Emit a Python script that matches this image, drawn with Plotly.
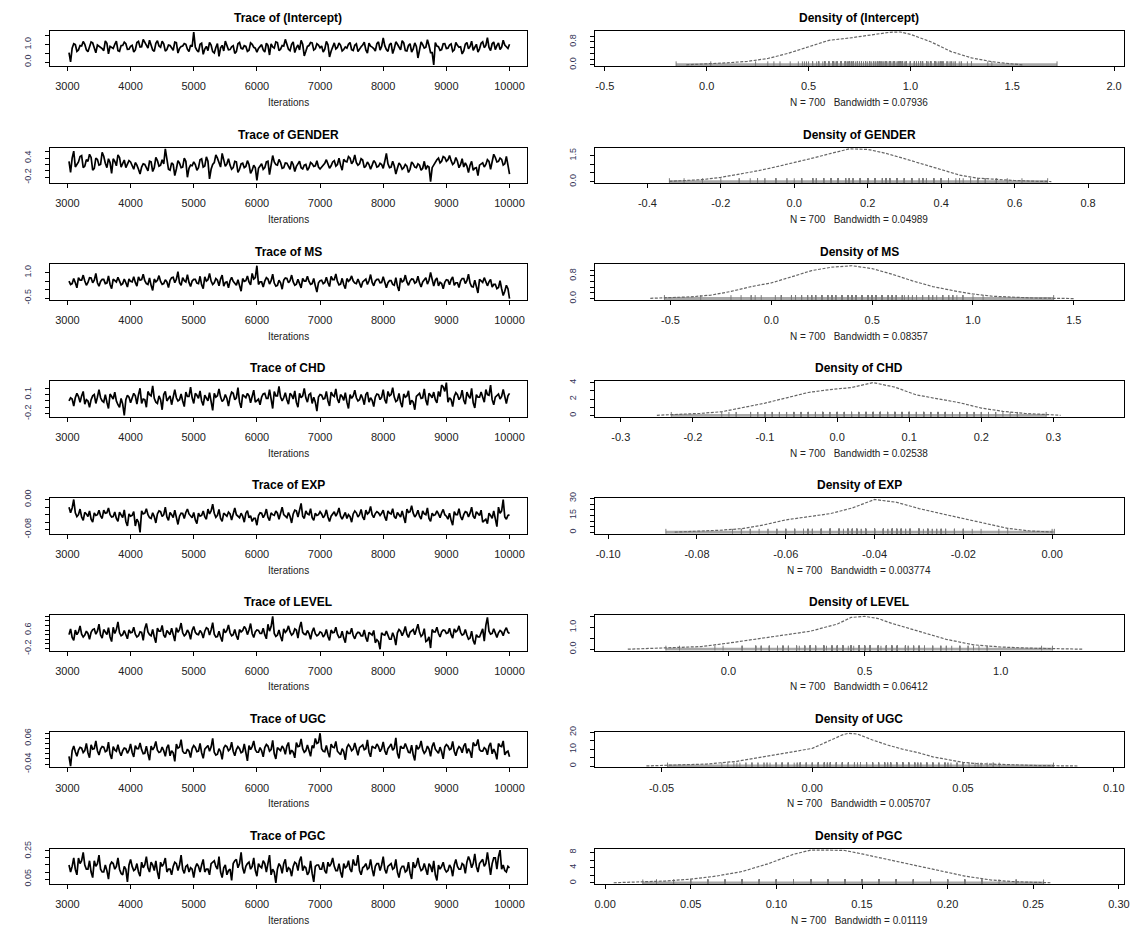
import plotly.graph_objects as go

W, H = 1140, 949

params = ["(Intercept)", "GENDER", "MS", "CHD", "EXP", "LEVEL", "UGC", "PGC"]
bandwidths = ["0.07936", "0.04989", "0.08357", "0.02538", "0.003774", "0.06412", "0.005707", "0.01119"]
n_samples = 700
iter_a = list(range(3025, 10000, 50))   # samples read at 3025, 3075, ...
iter_b = list(range(3050, 10001, 50))   # samples read at 3050, 3100, ...

# ---- trace values, read at iterations iter_b ----
trace_intercept = [
    0.02, 1.05, 0.62, 0.95, 1.18, 0.71, 0.88, 1.10, 0.54, 0.92, 0.77, 1.21, 0.48, 0.83, 1.02, 0.66, 0.95, 1.14, 0.73, 0.90,
    0.58, 1.12, 0.86, 1.30, 0.95, 1.25, 0.70, 1.08, 0.92, 1.19, 0.63, 0.98, 0.81, 1.15, 0.52, 0.89, 1.06, 0.74, 0.97, 1.72,
    0.68, 1.02, 0.45, 0.90, 1.13, 0.60, 0.84, 0.33, 0.96, 1.20, 0.71, 0.88, 0.50, 1.05, 0.79, 0.94, 0.62, 1.10, 0.85, 0.57,
    0.92, 0.70, 1.08, 0.41, 0.87, 1.16, 0.66, 0.95, 1.30, 0.74, 1.02, 0.55, 0.98, 1.24, 0.36, 0.90, 1.12, 0.69, 1.05, 0.82,
    0.58, 1.18, 0.30, 0.93, 0.76, 1.09, 0.64, 0.87, 1.03, 0.71, 0.96, 0.60, 0.88, 1.14, 0.52, 0.91, 0.78, 1.06, 0.69, 1.38,
    0.72, 1.00, 0.49, 1.16, 0.84, 1.22, 0.66, 0.95, 0.58, 1.10, 0.24, 1.15, 0.80, 1.28, 0.55, -0.15, 0.92, 0.68, 1.05, 0.78,
    0.98, 0.62, 1.12, 0.85, 0.47, 1.03, 0.76, 1.20, 0.90, 0.58, 1.08, 0.83, 1.40, 0.66, 1.15, 0.94, 0.72, 1.25, 0.88, 1.02,
]
trace_gender = [
    -0.05, 0.62, 0.22, 0.45, 0.10, 0.35, 0.52, 0.02, 0.40, 0.18, 0.58, 0.24, 0.38, -0.08, 0.30, 0.50, 0.12, 0.34, 0.20, 0.28,
    0.05, 0.18, -0.10, 0.22, 0.08, 0.30, -0.02, 0.42, 0.15, 0.35, 0.69, 0.05, 0.25, -0.15, 0.32, 0.10, 0.40, -0.20, 0.18, 0.28,
    0.02, 0.35, 0.12, 0.44, -0.25, 0.20, 0.50, 0.26, 0.55, 0.14, 0.38, 0.05, 0.30, -0.05, 0.22, 0.10, 0.32, -0.08, 0.18, -0.30,
    0.15, 0.05, 0.28, -0.12, 0.48, 0.20, 0.36, 0.08, 0.25, 0.12, 0.30, -0.02, 0.22, 0.10, 0.18, 0.02, 0.26, 0.14, 0.32, 0.06,
    0.20, 0.35, 0.08, 0.28, 0.15, 0.40, 0.02, 0.30, 0.45, 0.22, 0.50, 0.18, 0.38, 0.10, 0.28, 0.05, 0.32, 0.12, 0.24, 0.08,
    0.55, 0.10, 0.30, -0.10, 0.25, 0.05, 0.20, -0.05, 0.28, 0.12, 0.22, 0.02, 0.30, 0.15, -0.34, 0.20, 0.35, 0.25, 0.45, 0.30,
    0.48, 0.20, 0.42, 0.10, 0.38, 0.25, -0.05, 0.30, 0.08, -0.15, 0.22, 0.12, 0.35, 0.05, 0.52, 0.28, 0.40, 0.18, 0.45, -0.10,
]
trace_ms = [
    0.30, 0.65, 0.10, 0.55, 0.85, 0.25, 0.70, 0.40, 0.95, 0.20, 0.60, 0.35, 0.80, 0.05, 0.50, 0.72, 0.28, 0.62, 0.15, 0.48,
    0.75, 0.20, 0.55, 0.90, 0.35, 0.68, -0.05, 0.45, 0.82, 0.30, 0.58, 0.12, 0.70, 0.40, 1.05, 0.25, 0.52, 0.88, 0.18, 0.60,
    0.38, 0.78, 0.05, 0.50, 0.95, 0.30, 0.65, 0.22, 0.85, 0.42, 0.10, 0.72, 0.35, 0.58, -0.10, 0.48, 0.80, 0.28, 0.62, 1.40,
    0.45, 0.15, 0.70, 0.32, 0.90, 0.20, 0.55, 0.02, 0.68, 0.40, 0.85, 0.25, 0.60, 0.10, 0.50, 0.78, 0.30, 0.65, -0.15, 0.52,
    0.35, 0.72, 0.18, 0.58, 0.92, 0.28, 0.66, 0.05, 0.48, 0.80, 0.38, 0.62, 0.12, 0.55, 0.30, 0.88, 0.22, 0.60, 0.40, 0.75,
    0.10, 0.52, 0.30, 0.70, -0.08, 0.45, 0.85, 0.25, 0.62, 0.38, 0.78, 0.15, 0.55, 0.32, 1.00, 0.20, 0.68, 0.42, 0.05, 0.58,
    0.28, 0.75, 0.40, 0.12, 0.65, 0.35, 0.90, 0.18, 0.55, -0.20, 0.48, 0.70, 0.22, 0.60, 0.30, 0.05, 0.52, -0.35, 0.25, -0.53,
]
trace_chd = [
    0.05, -0.08, 0.12, -0.02, 0.15, 0.02, -0.10, 0.08, -0.04, 0.18, 0.00, 0.10, -0.12, 0.06, 0.14, -0.06, 0.04, -0.23, 0.09, -0.03,
    0.12, -0.05, 0.20, 0.03, -0.10, 0.10, 0.24, -0.02, 0.08, -0.14, 0.15, 0.05, -0.06, 0.18, 0.00, 0.11, -0.09, 0.07, 0.22, -0.04,
    0.09, 0.16, -0.07, 0.04, 0.13, -0.15, 0.06, 0.19, -0.01, 0.10, -0.08, 0.14, 0.02, 0.21, -0.11, 0.07, 0.12, -0.03, 0.17, 0.01,
    -0.06, 0.11, 0.04, 0.18, -0.12, 0.08, 0.23, 0.00, 0.13, -0.05, 0.09, 0.16, -0.10, 0.05, 0.20, -0.02, 0.12, 0.06, -0.16, 0.10,
    0.03, 0.15, -0.08, 0.09, 0.19, -0.03, 0.07, 0.13, -0.12, 0.04, 0.17, 0.00, 0.10, -0.06, 0.14, 0.05, -0.09, 0.11, 0.02, 0.18,
    -0.04, 0.08, 0.21, -0.01, 0.12, -0.10, 0.06, 0.16, 0.01, -0.14, 0.10, 0.04, 0.19, -0.07, 0.09, 0.14, -0.03, 0.07, 0.22, 0.29,
    0.05, -0.09, 0.13, 0.02, 0.17, -0.05, 0.08, 0.20, -0.11, 0.06, 0.14, -0.02, 0.10, 0.25, -0.06, 0.09, 0.03, 0.18, -0.04, 0.12,
]
trace_exp = [
    -0.035, 0.0005, -0.045, -0.025, -0.055, -0.038, -0.030, -0.060, -0.042, -0.028, -0.050, -0.036, -0.022, -0.046, -0.033, -0.058, -0.040, -0.027, -0.070, -0.044,
    -0.032, -0.052, -0.087, -0.038, -0.024, -0.048, -0.035, -0.062, -0.030, -0.045, -0.020, -0.055, -0.040, -0.028, -0.066, -0.036, -0.050, -0.025, -0.042, -0.034,
    -0.064, -0.044, -0.030, -0.052, -0.038, -0.012, -0.047, -0.026, -0.058, -0.040, -0.033, -0.054, -0.022, -0.045, -0.036, -0.060, -0.029, -0.043, -0.050, -0.068,
    -0.035, -0.048, -0.025, -0.056, -0.040, -0.030, -0.052, -0.020, -0.044, -0.034, -0.062, -0.028, -0.046, -0.010, -0.050, -0.038, -0.024, -0.055, -0.042, -0.032,
    -0.048, -0.027, -0.058, -0.036, -0.044, -0.022, -0.052, -0.034, -0.040, -0.060, -0.030, -0.046, -0.026, -0.054, -0.038, -0.018, -0.048, -0.032, -0.042, -0.028,
    -0.056, -0.036, -0.024, -0.050, -0.040, -0.030, -0.062, -0.034, -0.016, -0.046, -0.028, -0.052, -0.038, -0.022, -0.058, -0.042, -0.030, -0.048, -0.026, -0.044,
    -0.036, -0.068, -0.040, -0.024, -0.054, -0.032, -0.046, -0.020, -0.050, -0.038, -0.028, -0.056, -0.064, -0.042, -0.030, -0.072, -0.036, 0.000, -0.052, -0.040,
]
trace_level = [
    0.65, 0.15, 0.40, 0.78, 0.30, 0.55, 0.20, 0.62, 0.42, 0.85, 0.25, 0.50, 0.70, 0.10, 0.45, 0.95, 0.35, 0.58, 0.22, 0.48,
    0.72, 0.30, 0.52, 0.15, 0.88, 0.40, 0.62, 0.05, 0.55, 0.80, 0.28, 0.46, 0.68, 0.12, 0.50, 0.90, 0.35, 0.60, 0.20, 0.75,
    0.42, 0.58, 0.25, 0.70, 0.38, 0.92, 0.30, 0.55, 0.10, 0.48, 0.82, 0.35, 0.62, 0.18, 0.52, 0.75, 0.40, 0.88, 0.28, 0.60,
    0.45, 0.68, 0.22, 0.55, 1.19, 0.32, 0.60, 0.12, 0.50, 0.78, 0.38, 0.65, 0.25, 0.95, 0.42, 0.58, 0.20, 0.70, 0.35, 0.52,
    0.30, 0.62, 0.15, 0.48, 0.72, 0.28, 0.55, 0.05, 0.45, 0.68, 0.22, 0.50, 0.35, 0.60, 0.10, 0.42, 0.58, 0.18, -0.23, 0.40,
    0.55, 0.20, 0.48, -0.05, 0.62, 0.35, 0.75, 0.28, 0.58, 0.40, 0.85, 0.32, 0.66, 0.15, -0.18, 0.52, 0.72, 0.30, 0.60, 0.45,
    0.68, 0.25, 0.52, 0.78, 0.38, 0.62, 0.20, 0.55, -0.02, 0.30, 0.48, 0.12, 1.15, 0.42, 0.65, 0.28, 0.58, 0.35, 0.70, 0.45,
]
trace_ugc = [
    -0.048, 0.030, -0.010, 0.025, 0.005, 0.040, -0.015, 0.018, 0.050, -0.005, 0.028, 0.008, 0.045, -0.020, 0.015, 0.035, -0.008, 0.022, 0.002, 0.038,
    -0.012, 0.020, 0.042, 0.000, 0.030, -0.025, 0.015, 0.048, 0.005, 0.026, -0.010, 0.035, 0.012, -0.030, 0.022, 0.055, 0.002, 0.018, -0.015, 0.032,
    0.008, 0.040, -0.018, 0.025, 0.010, 0.060, -0.005, 0.020, -0.022, 0.032, 0.012, 0.045, -0.008, 0.028, 0.004, 0.038, -0.028, 0.016, 0.050, 0.006,
    0.024, -0.012, 0.036, 0.010, 0.052, -0.020, 0.018, 0.030, -0.002, 0.044, 0.014, -0.016, 0.028, 0.058, 0.006, 0.034, -0.010, 0.022, 0.040, 0.080,
    0.010, 0.032, -0.014, 0.026, 0.048, 0.002, 0.020, -0.024, 0.036, 0.012, 0.042, -0.006, 0.030, 0.016, 0.054, -0.012, 0.024, 0.038, 0.008, 0.046,
    -0.004, 0.028, 0.014, 0.062, -0.018, 0.022, 0.040, 0.006, 0.034, -0.026, 0.018, 0.050, 0.002, 0.030, -0.010, 0.044, 0.012, 0.026, -0.020, 0.036,
    0.016, 0.048, -0.008, 0.028, 0.004, 0.040, 0.020, -0.016, 0.032, 0.056, 0.010, 0.024, -0.004, 0.042, 0.018, -0.022, 0.030, 0.050, 0.006, -0.012,
]
trace_pgc = [
    0.10, 0.20, 0.08, 0.16, 0.24, 0.12, 0.18, 0.06, 0.14, 0.22, 0.10, 0.15, 0.05, 0.17, 0.12, 0.20, 0.09, 0.14, 0.03, 0.19,
    0.11, 0.16, 0.07, 0.13, 0.21, 0.10, 0.15, 0.18, 0.05, 0.14, 0.20, 0.12, 0.08, 0.17, 0.11, 0.22, 0.09, 0.15, 0.13, 0.06,
    0.16, 0.10, 0.19, 0.12, 0.08, 0.17, 0.14, 0.21, 0.06, 0.15, 0.11, 0.04, 0.18, 0.13, 0.24, 0.09, 0.16, 0.12, 0.20, 0.07,
    0.14, 0.18, 0.10, 0.22, 0.12, 0.022, 0.16, 0.09, 0.19, 0.13, 0.07, 0.17, 0.11, 0.21, 0.14, 0.08, 0.18, 0.03, 0.15, 0.12,
    0.17, 0.09, 0.14, 0.20, 0.11, 0.16, 0.06, 0.13, 0.18, 0.10, 0.15, 0.22, 0.08, 0.14, 0.12, 0.19, 0.07, 0.16, 0.11, 0.21,
    0.09, 0.15, 0.12, 0.19, 0.06, 0.14, 0.10, 0.17, 0.05, 0.13, 0.20, 0.11, 0.16, 0.08, 0.14, 0.18, 0.04, 0.12, 0.17, 0.10,
    0.15, 0.07, 0.19, 0.12, 0.16, 0.09, 0.21, 0.13, 0.23, 0.10, 0.18, 0.14, 0.24, 0.08, 0.20, 0.12, 0.256, 0.15, 0.10, 0.13,
]

# ---- trace values, read at iterations iter_a ----
mid_intercept = [
    0.55, 0.80, 1.00, 0.70, 0.92, 1.02, 0.60, 1.15, 0.75, 0.98, 0.85, 0.66, 1.08, 0.90, 0.78, 1.20, 0.62, 0.95, 1.05, 0.74,
    0.96, 0.70, 1.18, 0.88, 1.10, 0.80, 1.00, 0.62, 1.22, 0.85, 1.05, 0.72, 0.95, 0.68, 1.12, 0.78, 0.92, 1.02, 0.60, 0.88,
    0.85, 0.58, 1.08, 0.75, 0.66, 0.98, 0.52, 1.06, 0.82, 0.64, 1.00, 0.72, 0.94, 0.60, 1.12, 0.76, 0.90, 0.68, 1.02, 0.80,
    0.78, 1.00, 0.58, 0.96, 1.05, 0.80, 1.12, 0.74, 0.92, 1.06, 0.66, 1.15, 0.82, 0.70, 1.02, 0.62, 0.95, 1.10, 0.76, 0.98,
    0.92, 0.74, 1.00, 0.62, 1.10, 0.84, 0.96, 0.72, 0.80, 1.12, 0.66, 1.04, 0.76, 0.98, 0.70, 1.08, 0.86, 0.64, 1.16, 0.90,
    0.94, 0.62, 1.08, 0.78, 1.02, 0.70, 1.10, 0.64, 1.05, 0.76, 0.90, 0.68, 1.00, 0.85, 0.95, 0.55, 1.12, 0.88, 0.72, 1.06,
    0.80, 1.04, 0.70, 0.96, 0.88, 0.64, 1.12, 0.90, 0.68, 1.02, 0.76, 1.16, 0.95, 0.84, 1.05, 0.72, 1.10, 0.86, 0.98, 0.78,
]
mid_gender = [
    0.30, 0.40, 0.12, 0.28, 0.48, 0.15, 0.30, 0.42, 0.08, 0.36, 0.20, 0.46, 0.10, 0.26, 0.38, 0.16, 0.42, 0.22, 0.10, 0.32,
    0.15, 0.26, 0.05, 0.12, 0.20, 0.00, 0.28, 0.10, 0.32, 0.18, 0.22, 0.36, 0.02, 0.20, 0.06, 0.24, 0.12, 0.30, 0.08, 0.16,
    0.20, 0.10, 0.38, 0.15, 0.30, 0.05, 0.26, 0.40, 0.12, 0.30, 0.22, 0.18, 0.10, 0.28, 0.05, 0.24, 0.14, 0.20, 0.02, 0.10,
    0.08, 0.22, 0.10, 0.30, 0.15, 0.28, 0.18, 0.26, 0.10, 0.24, 0.05, 0.20, 0.14, 0.30, 0.06, 0.20, 0.10, 0.22, 0.16, 0.12,
    0.12, 0.24, 0.22, 0.16, 0.32, 0.20, 0.18, 0.36, 0.28, 0.40, 0.30, 0.26, 0.22, 0.34, 0.15, 0.20, 0.18, 0.26, 0.14, 0.20,
    0.30, 0.22, 0.12, 0.15, 0.08, 0.18, 0.10, 0.15, 0.05, 0.22, 0.10, 0.18, 0.08, 0.05, 0.12, 0.10, 0.28, 0.40, 0.30, 0.42,
    0.35, 0.32, 0.25, 0.30, 0.20, 0.12, 0.15, 0.18, 0.02, 0.10, 0.18, 0.25, 0.20, 0.30, 0.35, 0.42, 0.30, 0.36, 0.22, 0.18,
]
mid_ms = [
    0.50, 0.35, 0.40, 0.70, 0.55, 0.50, 0.42, 0.68, 0.55, 0.40, 0.48, 0.60, 0.38, 0.30, 0.62, 0.45, 0.50, 0.35, 0.40, 0.62,
    0.45, 0.42, 0.75, 0.58, 0.52, 0.30, 0.25, 0.62, 0.55, 0.48, 0.35, 0.45, 0.55, 0.72, 0.60, 0.40, 0.70, 0.45, 0.42, 0.50,
    0.60, 0.35, 0.28, 0.75, 0.58, 0.50, 0.40, 0.55, 0.62, 0.20, 0.45, 0.52, 0.48, 0.25, 0.20, 0.65, 0.52, 0.45, 0.95, 0.70,
    0.30, 0.45, 0.50, 0.62, 0.52, 0.38, 0.25, 0.40, 0.55, 0.65, 0.52, 0.45, 0.32, 0.35, 0.65, 0.50, 0.48, 0.35, 0.22, 0.40,
    0.55, 0.42, 0.40, 0.78, 0.58, 0.48, 0.32, 0.28, 0.65, 0.58, 0.50, 0.35, 0.38, 0.45, 0.62, 0.52, 0.42, 0.50, 0.60, 0.42,
    0.35, 0.40, 0.52, 0.25, 0.20, 0.68, 0.52, 0.45, 0.50, 0.60, 0.45, 0.38, 0.45, 0.70, 0.55, 0.48, 0.55, 0.22, 0.35, 0.42,
    0.55, 0.58, 0.25, 0.40, 0.50, 0.65, 0.52, 0.38, 0.15, 0.18, 0.60, 0.42, 0.40, 0.45, 0.15, 0.30, 0.12, 0.05, -0.10, 0.05,
]
mid_chd = [
    0.00, 0.03, 0.05, 0.07, 0.08, -0.05, 0.00, 0.02, 0.10, 0.06, 0.05, -0.02, -0.02, 0.11, 0.03, 0.00, -0.10, -0.05, 0.02, 0.06,
    0.04, 0.08, 0.10, -0.04, 0.02, 0.15, 0.08, 0.04, -0.04, 0.02, 0.10, 0.00, 0.08, 0.06, 0.05, 0.02, 0.00, 0.14, 0.07, 0.05,
    0.12, 0.04, 0.00, 0.09, 0.00, -0.03, 0.12, 0.08, 0.06, 0.02, 0.04, 0.06, 0.12, 0.05, -0.02, 0.10, 0.05, 0.08, 0.06, -0.02,
    0.03, 0.06, 0.12, 0.04, -0.01, 0.15, 0.08, 0.06, 0.05, 0.02, 0.12, 0.03, -0.02, 0.12, 0.08, 0.05, 0.10, -0.04, -0.02, 0.06,
    0.09, 0.04, 0.00, 0.14, 0.07, 0.03, 0.10, 0.01, -0.02, 0.10, 0.08, 0.05, 0.02, 0.04, 0.10, -0.02, 0.01, 0.06, 0.10, 0.06,
    0.02, 0.15, 0.10, 0.06, 0.01, -0.02, 0.11, 0.08, -0.06, -0.02, 0.07, 0.12, 0.05, 0.01, 0.12, 0.05, 0.02, 0.15, 0.25, 0.15,
    -0.02, 0.02, 0.07, 0.10, 0.06, 0.01, 0.14, 0.04, -0.03, 0.10, 0.06, 0.04, 0.18, 0.09, 0.02, 0.06, 0.11, 0.07, 0.04, 0.08,
]
mid_exp = [
    -0.020, -0.022, -0.035, -0.040, -0.046, -0.034, -0.045, -0.052, -0.035, -0.040, -0.043, -0.028, -0.035, -0.040, -0.045, -0.050, -0.033, -0.048, -0.058, -0.038,
    -0.042, -0.070, -0.060, -0.030, -0.036, -0.040, -0.050, -0.045, -0.038, -0.032, -0.040, -0.046, -0.034, -0.048, -0.050, -0.044, -0.037, -0.034, -0.038, -0.048,
    -0.054, -0.036, -0.042, -0.045, -0.025, -0.030, -0.036, -0.042, -0.050, -0.036, -0.044, -0.038, -0.034, -0.040, -0.048, -0.044, -0.036, -0.048, -0.058, -0.050,
    -0.042, -0.036, -0.040, -0.047, -0.035, -0.042, -0.036, -0.032, -0.040, -0.048, -0.045, -0.038, -0.030, -0.028, -0.044, -0.030, -0.040, -0.048, -0.036, -0.040,
    -0.038, -0.042, -0.046, -0.044, -0.032, -0.036, -0.044, -0.040, -0.050, -0.045, -0.038, -0.035, -0.040, -0.046, -0.028, -0.034, -0.040, -0.037, -0.035, -0.036,
    -0.046, -0.030, -0.038, -0.045, -0.034, -0.046, -0.048, -0.025, -0.032, -0.036, -0.040, -0.044, -0.030, -0.040, -0.050, -0.036, -0.040, -0.038, -0.035, -0.040,
    -0.052, -0.055, -0.032, -0.040, -0.045, -0.040, -0.034, -0.036, -0.044, -0.032, -0.042, -0.060, -0.052, -0.036, -0.050, -0.055, -0.020, -0.030, -0.046, -0.042,
]
mid_level = [
    0.40, 0.28, 0.60, 0.52, 0.42, 0.38, 0.45, 0.50, 0.65, 0.55, 0.38, 0.62, 0.40, 0.30, 0.72, 0.62, 0.48, 0.40, 0.35, 0.60,
    0.50, 0.42, 0.35, 0.50, 0.66, 0.52, 0.35, 0.30, 0.68, 0.55, 0.38, 0.58, 0.40, 0.32, 0.70, 0.62, 0.48, 0.42, 0.48, 0.58,
    0.50, 0.40, 0.48, 0.55, 0.65, 0.60, 0.42, 0.32, 0.30, 0.65, 0.58, 0.48, 0.40, 0.35, 0.62, 0.58, 0.65, 0.60, 0.45, 0.52,
    0.58, 0.45, 0.40, 0.85, 0.75, 0.45, 0.38, 0.32, 0.65, 0.58, 0.52, 0.45, 0.60, 0.70, 0.50, 0.40, 0.45, 0.52, 0.44, 0.40,
    0.48, 0.40, 0.32, 0.60, 0.50, 0.42, 0.30, 0.25, 0.56, 0.45, 0.36, 0.42, 0.48, 0.35, 0.26, 0.50, 0.38, 0.05, 0.10, 0.48,
    0.38, 0.35, 0.20, 0.30, 0.48, 0.55, 0.52, 0.42, 0.50, 0.62, 0.58, 0.50, 0.40, 0.10, 0.30, 0.62, 0.52, 0.45, 0.52, 0.58,
    0.48, 0.40, 0.65, 0.58, 0.50, 0.42, 0.38, 0.25, 0.15, 0.40, 0.30, 0.65, 0.80, 0.55, 0.45, 0.42, 0.48, 0.52, 0.58, 0.50,
]
mid_ugc = [
    -0.010, 0.012, 0.008, 0.014, 0.022, 0.012, 0.004, 0.035, 0.020, 0.012, 0.018, 0.026, 0.012, -0.002, 0.028, 0.010, 0.008, 0.012, 0.020, 0.014,
    0.005, 0.032, 0.020, 0.016, 0.002, 0.000, 0.030, 0.026, 0.014, 0.008, 0.012, 0.024, -0.008, 0.004, 0.038, 0.026, 0.010, 0.002, 0.010, 0.020,
    0.025, 0.010, 0.004, 0.018, 0.032, 0.026, 0.006, -0.002, 0.008, 0.022, 0.028, 0.018, 0.010, 0.016, 0.020, 0.008, -0.004, 0.032, 0.028, 0.016,
    0.006, 0.012, 0.024, 0.030, 0.016, 0.000, 0.024, 0.012, 0.020, 0.030, -0.002, 0.006, 0.044, 0.030, 0.020, 0.012, 0.006, 0.032, 0.060, 0.044,
    0.020, 0.008, 0.006, 0.038, 0.024, 0.010, -0.004, 0.008, 0.024, 0.028, 0.018, 0.012, 0.024, 0.034, 0.020, 0.006, 0.030, 0.022, 0.028, 0.020,
    0.012, 0.020, 0.038, 0.022, 0.002, 0.030, 0.022, 0.020, 0.004, -0.004, 0.034, 0.026, 0.016, 0.010, 0.018, 0.028, 0.018, 0.002, 0.008, 0.026,
    0.030, 0.020, 0.010, 0.016, 0.022, 0.030, 0.002, 0.008, 0.044, 0.034, 0.016, 0.010, 0.018, 0.030, 0.000, 0.004, 0.040, 0.028, -0.004, 0.010,
]
mid_pgc = [
    0.15, 0.14, 0.12, 0.20, 0.18, 0.15, 0.12, 0.10, 0.18, 0.16, 0.12, 0.10, 0.11, 0.15, 0.16, 0.14, 0.12, 0.08, 0.12, 0.15,
    0.14, 0.12, 0.10, 0.17, 0.15, 0.13, 0.17, 0.11, 0.10, 0.17, 0.16, 0.10, 0.12, 0.14, 0.16, 0.15, 0.12, 0.14, 0.10, 0.12,
    0.13, 0.14, 0.15, 0.10, 0.12, 0.16, 0.18, 0.12, 0.10, 0.13, 0.08, 0.12, 0.16, 0.19, 0.16, 0.13, 0.14, 0.17, 0.14, 0.11,
    0.16, 0.13, 0.16, 0.17, 0.08, 0.10, 0.12, 0.14, 0.16, 0.10, 0.12, 0.14, 0.16, 0.18, 0.11, 0.13, 0.10, 0.09, 0.14, 0.15,
    0.12, 0.11, 0.17, 0.16, 0.14, 0.11, 0.10, 0.16, 0.14, 0.12, 0.19, 0.15, 0.11, 0.13, 0.16, 0.13, 0.12, 0.14, 0.16, 0.15,
    0.12, 0.14, 0.16, 0.13, 0.10, 0.12, 0.14, 0.11, 0.09, 0.17, 0.15, 0.14, 0.12, 0.11, 0.16, 0.10, 0.08, 0.15, 0.14, 0.12,
    0.11, 0.13, 0.15, 0.14, 0.12, 0.15, 0.17, 0.18, 0.16, 0.14, 0.16, 0.19, 0.16, 0.14, 0.16, 0.20, 0.21, 0.12, 0.11, 0.14,
]

traces_b = [trace_intercept, trace_gender, trace_ms, trace_chd, trace_exp, trace_level, trace_ugc, trace_pgc]
traces_a = [mid_intercept, mid_gender, mid_ms, mid_chd, mid_exp, mid_level, mid_ugc, mid_pgc]
for ta, tb in zip(traces_a, traces_b):
    assert len(ta) == len(iter_a) and len(tb) == len(iter_b), (len(ta), len(tb))

# merge the two readings in iteration order
iterations = [v for pair in zip(iter_a, iter_b) for v in pair]
traces = [[v for pair in zip(ta, tb) for v in pair] for ta, tb in zip(traces_a, traces_b)]

# ---- density curves ----
dens_x_intercept = [-0.10, 0.0, 0.1, 0.2, 0.3, 0.4, 0.5, 0.6, 0.7, 0.8, 0.9, 0.95, 1.0, 1.1, 1.2, 1.3, 1.4, 1.5, 1.55]
dens_y_intercept = [0.00, 0.03, 0.07, 0.12, 0.22, 0.40, 0.62, 0.85, 0.93, 1.04, 1.13, 1.14, 1.06, 0.80, 0.46, 0.24, 0.11, 0.03, 0.00]
dens_x_gender = [-0.34, -0.3, -0.25, -0.2, -0.15, -0.1, -0.05, 0.0, 0.05, 0.1, 0.15, 0.2, 0.25, 0.3, 0.35, 0.4, 0.45, 0.5, 0.55, 0.6, 0.65, 0.7]
dens_y_gender = [0.02, 0.05, 0.12, 0.25, 0.42, 0.62, 0.85, 1.08, 1.35, 1.62, 1.88, 1.85, 1.62, 1.32, 1.02, 0.68, 0.38, 0.20, 0.12, 0.07, 0.03, 0.01]
dens_x_ms = [-0.6, -0.5, -0.4, -0.3, -0.2, -0.1, 0.0, 0.1, 0.2, 0.3, 0.4, 0.5, 0.6, 0.7, 0.8, 0.9, 1.0, 1.1, 1.2, 1.3, 1.4, 1.5]
dens_y_ms = [0.01, 0.03, 0.06, 0.12, 0.25, 0.42, 0.55, 0.76, 0.98, 1.10, 1.15, 1.05, 0.85, 0.62, 0.42, 0.28, 0.16, 0.08, 0.04, 0.02, 0.01, 0.00]
dens_x_chd = [-0.25, -0.22, -0.19, -0.16, -0.13, -0.10, -0.07, -0.04, -0.01, 0.02, 0.05, 0.08, 0.11, 0.14, 0.17, 0.20, 0.23, 0.26, 0.29, 0.31]
dens_y_chd = [0.02, 0.10, 0.25, 0.45, 0.95, 1.50, 2.15, 2.80, 3.15, 3.40, 4.00, 3.45, 2.50, 2.05, 1.55, 0.90, 0.50, 0.25, 0.08, 0.02]
dens_x_exp = [-0.085, -0.080, -0.075, -0.070, -0.065, -0.060, -0.055, -0.050, -0.045, -0.040, -0.035, -0.030, -0.025, -0.020, -0.015, -0.010, -0.005, 0.000]
dens_y_exp = [0.2, 0.8, 1.8, 3.2, 6.5, 11.0, 13.5, 16.5, 21.5, 29.0, 26.5, 21.0, 16.5, 12.0, 7.5, 3.5, 1.2, 0.3]
dens_x_level = [-0.37, -0.3, -0.2, -0.1, 0.0, 0.1, 0.2, 0.3, 0.4, 0.45, 0.5, 0.55, 0.6, 0.7, 0.8, 0.9, 1.0, 1.1, 1.2, 1.3]
dens_y_level = [0.00, 0.03, 0.10, 0.12, 0.28, 0.45, 0.65, 0.82, 1.15, 1.45, 1.50, 1.40, 1.18, 0.80, 0.45, 0.20, 0.10, 0.05, 0.02, 0.00]
dens_x_ugc = [-0.055, -0.045, -0.035, -0.025, -0.015, -0.005, 0.000, 0.005, 0.010, 0.012, 0.015, 0.020, 0.025, 0.030, 0.035, 0.040, 0.045, 0.050, 0.055, 0.065, 0.075, 0.088]
dens_y_ugc = [0.1, 0.6, 1.2, 2.8, 5.8, 8.8, 10.5, 14.5, 18.5, 19.5, 19.0, 15.5, 12.5, 10.0, 8.0, 5.5, 3.8, 2.2, 1.4, 0.8, 0.3, 0.05]
dens_x_pgc = [0.005, 0.02, 0.035, 0.05, 0.065, 0.08, 0.095, 0.11, 0.12, 0.13, 0.14, 0.15, 0.165, 0.18, 0.195, 0.21, 0.225, 0.24, 0.26]
dens_y_pgc = [0.05, 0.2, 0.5, 1.0, 1.8, 3.0, 5.0, 7.5, 8.6, 8.6, 8.5, 7.6, 6.2, 4.8, 3.2, 1.8, 0.8, 0.3, 0.05]
dens_x = [dens_x_intercept, dens_x_gender, dens_x_ms, dens_x_chd, dens_x_exp, dens_x_level, dens_x_ugc, dens_x_pgc]
dens_y = [dens_y_intercept, dens_y_gender, dens_y_ms, dens_y_chd, dens_y_exp, dens_y_level, dens_y_ugc, dens_y_pgc]

# ---- tick labels ----
trace_xticks = [3000, 4000, 5000, 6000, 7000, 8000, 9000, 10000]
trace_yticks = [
    ([0.0, 0.5, 1.0, 1.5], ["0.0", "", "1.0", ""]),
    ([-0.2, 0.0, 0.2, 0.4, 0.6], ["-0.2", "", "", "0.4", ""]),
    ([-0.5, 0.0, 0.5, 1.0], ["-0.5", "", "", "1.0"]),
    ([-0.2, -0.1, 0.0, 0.1, 0.2], ["-0.2", "", "", "0.1", ""]),
    ([-0.08, -0.06, -0.04, -0.02, 0.00], ["-0.08", "", "", "", "0.00"]),
    ([-0.2, 0.0, 0.2, 0.4, 0.6, 0.8, 1.0, 1.2], ["-0.2", "", "", "", "0.6", "", "", ""]),
    ([-0.04, -0.02, 0.0, 0.02, 0.04, 0.06, 0.08], ["-0.04", "", "", "", "", "0.06", ""]),
    ([0.05, 0.10, 0.15, 0.20, 0.25], ["0.05", "", "", "", "0.25"]),
]
dens_xticks = [
    ([-0.5, 0.0, 0.5, 1.0, 1.5, 2.0], ["-0.5", "0.0", "0.5", "1.0", "1.5", "2.0"]),
    ([-0.4, -0.2, 0.0, 0.2, 0.4, 0.6, 0.8], ["-0.4", "-0.2", "0.0", "0.2", "0.4", "0.6", "0.8"]),
    ([-0.5, 0.0, 0.5, 1.0, 1.5], ["-0.5", "0.0", "0.5", "1.0", "1.5"]),
    ([-0.3, -0.2, -0.1, 0.0, 0.1, 0.2, 0.3], ["-0.3", "-0.2", "-0.1", "0.0", "0.1", "0.2", "0.3"]),
    ([-0.10, -0.08, -0.06, -0.04, -0.02, 0.00], ["-0.10", "-0.08", "-0.06", "-0.04", "-0.02", "0.00"]),
    ([0.0, 0.5, 1.0], ["0.0", "0.5", "1.0"]),
    ([-0.05, 0.00, 0.05, 0.10], ["-0.05", "0.00", "0.05", "0.10"]),
    ([0.00, 0.05, 0.10, 0.15, 0.20, 0.25, 0.30], ["0.00", "0.05", "0.10", "0.15", "0.20", "0.25", "0.30"]),
]
dens_yticks = [
    ([0.0, 0.2, 0.4, 0.6, 0.8, 1.0], ["0.0", "", "", "", "0.8", ""]),
    ([0.0, 0.5, 1.0, 1.5], ["0.0", "", "", "1.5"]),
    ([0.0, 0.2, 0.4, 0.6, 0.8, 1.0], ["0.0", "", "", "", "0.8", ""]),
    ([0, 1, 2, 3, 4], ["0", "", "2", "", "4"]),
    ([0, 5, 10, 15, 20, 25, 30], ["0", "", "", "15", "", "", "30"]),
    ([0.0, 0.5, 1.0, 1.5], ["0.0", "", "1.0", ""]),
    ([0, 5, 10, 15, 20], ["0", "", "10", "", "20"]),
    ([0, 2, 4, 6, 8], ["0", "", "4", "", "8"]),
]
# axis windows of the density panels (layout)
dens_xrange = [(-0.549, 2.049), (-0.543, 0.898), (-0.875, 1.749), (-0.336, 0.398),
               (-0.103, 0.0162), (-0.491, 1.453), (-0.0721, 0.1034), (-0.006, 0.303)]

# ---------------- layout geometry (pixels) ----------------
CELL = H / 8.0
BOX_TOP, BOX_H = 22, 36
TITLE_DY, XLAB_DY = -13, 37
LEFT_X = (50, 530)
RIGHT_X = (598, 1130)
FONT = "Liberation Sans"

fig = go.Figure()
layout = dict(width=W, height=H, autosize=False, margin=dict(l=0, r=0, t=0, b=0),
              paper_bgcolor="white", plot_bgcolor="white", showlegend=False,
              font=dict(family=FONT, color="black"))
annotations = []


def pad(lo, hi, f=0.04):
    d = (hi - lo) * f
    return [lo - d, hi + d]


axis_common = dict(showline=True, mirror=True, linecolor="black", linewidth=1,
                   ticks="outside", ticklen=4, tickwidth=1, tickcolor="black",
                   showgrid=False, zeroline=False, tickmode="array")
yaxis_style = dict(tickangle=-90, tickfont=dict(size=9, color="#333355"), ticklabelstandoff=10)
xaxis_style = dict(tickfont=dict(size=11, color="#222"), ticklabelstandoff=6)

for i in range(8):
    top = i * CELL
    box_top = top + BOX_TOP
    box_bot = box_top + BOX_H
    ydom = [1 - box_bot / H, 1 - box_top / H]
    for side in range(2):
        k = 2 * i + side + 1
        xs = "" if k == 1 else str(k)
        xr = LEFT_X if side == 0 else RIGHT_X
        xdom = [xr[0] / W, xr[1] / W]
        t = traces[i]
        if side == 0:
            fig.add_trace(go.Scatter(x=iterations, y=t, mode="lines",
                                     line=dict(color="black", width=1.7),
                                     xaxis="x" + xs, yaxis="y" + xs, hoverinfo="skip"))
            layout["xaxis" + xs] = dict(axis_common, **xaxis_style, domain=xdom, anchor="y" + xs,
                                        range=[2720, 10280], tickvals=trace_xticks,
                                        ticktext=[str(v) for v in trace_xticks])
            layout["yaxis" + xs] = dict(axis_common, **yaxis_style, domain=ydom, anchor="x" + xs,
                                        range=pad(min(t), max(t)),
                                        tickvals=trace_yticks[i][0], ticktext=trace_yticks[i][1])
            title = "Trace of " + params[i]
            xlab = "Iterations"
        else:
            dx, dy = dens_x[i], dens_y[i]
            # rug band of the sampled values along the base line
            fig.add_trace(go.Scatter(x=[min(t), max(t)], y=[0, 0], mode="lines",
                                     line=dict(color="#a8a8a8", width=3),
                                     xaxis="x" + xs, yaxis="y" + xs, hoverinfo="skip"))
            fig.add_trace(go.Scatter(x=t, y=[0] * len(t), mode="markers",
                                     marker=dict(symbol="line-ns", size=5, color="#7a7a7a",
                                                 line=dict(width=1, color="#7a7a7a")),
                                     xaxis="x" + xs, yaxis="y" + xs, hoverinfo="skip"))
            fig.add_trace(go.Scatter(x=dx, y=dy, mode="lines",
                                     line=dict(color="#666666", width=1.2, dash="3px,1.5px"),
                                     xaxis="x" + xs, yaxis="y" + xs, hoverinfo="skip"))
            layout["xaxis" + xs] = dict(axis_common, **xaxis_style, domain=xdom, anchor="y" + xs,
                                        range=list(dens_xrange[i]),
                                        tickvals=dens_xticks[i][0], ticktext=dens_xticks[i][1])
            layout["yaxis" + xs] = dict(axis_common, **yaxis_style, domain=ydom, anchor="x" + xs,
                                        range=pad(0, max(dy)),
                                        tickvals=dens_yticks[i][0], ticktext=dens_yticks[i][1])
            title = "Density of " + params[i]
            xlab = "N = %d   Bandwidth = %s" % (n_samples, bandwidths[i])
        xc = (xr[0] + xr[1]) / 2 / W
        annotations.append(dict(text="<b>" + title + "</b>", x=xc, y=1 - (box_top + TITLE_DY) / H,
                                xref="paper", yref="paper", showarrow=False,
                                xanchor="center", yanchor="middle",
                                font=dict(size=12, family=FONT, color="black")))
        annotations.append(dict(text=xlab, x=xc, y=1 - (box_bot + XLAB_DY) / H,
                                xref="paper", yref="paper", showarrow=False,
                                xanchor="center", yanchor="middle",
                                font=dict(size=10, family=FONT, color="#222")))

layout["annotations"] = annotations
fig.update_layout(**layout)
fig.write_html("out.html", config={"displayModeBar": False},
               post_script="document.body.style.margin='0px';")
